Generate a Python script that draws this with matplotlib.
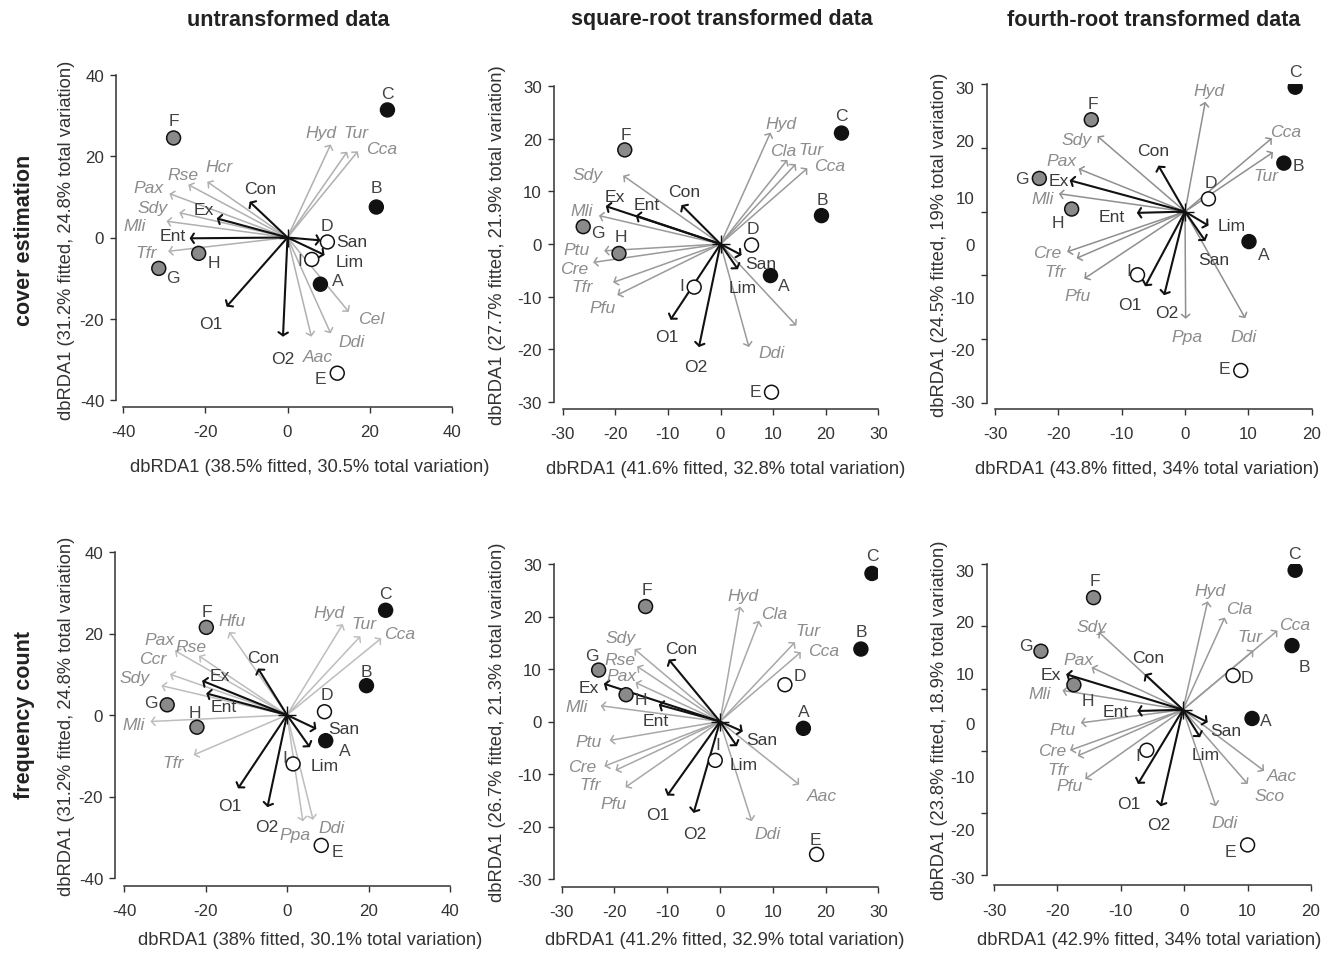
import matplotlib
matplotlib.use('Agg')
import matplotlib.pyplot as plt
from matplotlib import font_manager
from matplotlib.patches import FancyArrowPatch

# --- fonts: the original uses an Arial Narrow look
installed = {f.name for f in font_manager.fontManager.ttflist}
if 'Liberation Sans Narrow' in installed:
    NARROW, K = 'Liberation Sans Narrow', 1.0
else:
    NARROW, K = 'Liberation Sans', 0.84
plt.rcParams['font.family'] = [NARROW, 'DejaVu Sans']
plt.rcParams['axes.unicode_minus'] = False

# ---------------- data ----------------
sites = ['A', 'B', 'C', 'D', 'E', 'F', 'G', 'H', 'I']
site_fill = ['#111111', '#111111', '#111111', 'white', 'white',
             '#8a8a8a', '#8a8a8a', '#8a8a8a', 'white']
env_names = ['Con', 'Ex', 'Ent', 'San', 'Lim', 'O1', 'O2']

# cover estimation, untransformed
ce_raw_sx = [8.0, 21.6, 24.3, 9.7, 12.1, -27.7, -31.3, -21.6, 5.9]
ce_raw_sy = [-11.5, 7.5, 31.4, -1.1, -33.4, 24.5, -7.6, -3.9, -5.4]
ce_raw_ex = [-9.2, -17.2, -23.8, 8.0, 9.0, -14.8, -1.1]
ce_raw_ey = [8.8, 4.7, -0.2, -0.7, -4.3, -17.0, -24.4]
ce_raw_sp = ['Hyd', 'Tur', 'Cca', 'Hcr', 'Rse', 'Pax', 'Sdy', 'Mli', 'Tfr', 'Cel', 'Ddi', 'Aac']
ce_raw_px = [10.5, 14.5, 17.1, -19.5, -24.1, -28.7, -26.3, -29.4, -29.0, 14.9, 10.5, 5.8]
ce_raw_py = [22.9, 21.1, 21.2, 13.7, 13.0, 10.8, 6.1, 4.0, -3.4, -18.3, -23.6, -24.4]

# cover estimation, square-root
ce_sqrt_sx = [9.5, 19.2, 23.0, 5.9, 9.7, -18.2, -26.1, -19.3, -5.0]
ce_sqrt_sy = [-6.0, 5.4, 21.1, -0.2, -28.2, 17.9, 3.3, -1.8, -8.2]
ce_sqrt_ex = [-7.4, -21.8, -16.1, 4.0, 3.3, -9.5, -4.1]
ce_sqrt_ey = [7.4, 7.2, 5.4, -2.1, -4.8, -14.4, -19.6]
ce_sqrt_sp = ['Hyd', 'Cla', 'Tur', 'Cca', 'Sdy', 'Mli', 'Ptu', 'Cre', 'Tfr', 'Pfu', '', 'Ddi']
ce_sqrt_px = [9.5, 12.7, 14.3, 16.5, -18.5, -23.1, -22.1, -24.2, -20.4, -19.6, 14.4, 5.4]
ce_sqrt_py = [21.2, 16.0, 15.2, 14.4, 13.0, 5.4, -1.3, -3.5, -7.3, -9.7, -15.5, -19.6]

# cover estimation, fourth-root
ce_4rt_sx = [10.1, 15.6, 17.4, 3.7, 8.8, -14.8, -23.0, -17.9, -7.5]
ce_4rt_sy = [-4.7, 7.6, 19.5, 2.0, -24.9, 14.4, 5.2, 0.4, -9.9]
ce_4rt_ex = [-4.2, -18.2, -7.6, 3.2, 3.7, -6.3, -3.3]
ce_4rt_ey = [7.2, 4.9, -0.2, -4.6, -2.2, -11.7, -13.1]
ce_4rt_sp = ['Hyd', 'Cca', 'Tur', 'Sdy', 'Pax', 'Mli', 'Cre', 'Tfr', 'Pfu', 'Ppa', 'Ddi']
ce_4rt_px = [3.2, 13.7, 13.9, -13.8, -16.8, -19.9, -18.6, -17.1, -15.9, 0.1, 9.5]
ce_4rt_py = [17.2, 11.5, 9.3, 11.8, 6.7, 2.8, -6.3, -7.3, -10.5, -16.8, -16.7]

# frequency count, untransformed
fc_raw_sx = [9.5, 19.5, 24.2, 9.2, 8.4, -19.8, -29.4, -22.1, 1.5]
fc_raw_sy = [-6.3, 7.2, 25.7, 0.8, -32.0, 21.5, 2.5, -3.0, -12.0]
fc_raw_ex = [-7.1, -20.8, -19.8, 7.2, 5.6, -12.0, -4.8]
fc_raw_ey = [11.4, 8.4, 5.3, -3.4, -7.9, -18.0, -22.6]
fc_raw_sp = ['Hyd', 'Tur', 'Cca', 'Hfu', 'Pax', 'Rse', 'Ccr', 'Sdy', 'Mli', 'Tfr', 'Ppa', 'Ddi']
fc_raw_px = [13.7, 18.0, 23.1, -14.2, -27.5, -21.6, -28.7, -30.8, -33.5, -22.9, 3.9, 6.4]
fc_raw_py = [22.3, 19.3, 18.8, 20.4, 15.8, 14.5, 10.0, 7.2, -1.6, -9.8, -26.1, -25.7]

# frequency count, square-root
fc_sqrt_sx = [15.8, 26.7, 28.8, 12.3, 18.3, -14.1, -23.0, -17.8, -0.9]
fc_sqrt_sy = [-1.3, 13.8, 28.2, 7.0, -25.3, 21.9, 9.8, 5.1, -7.4]
fc_sqrt_ex = [-9.7, -22.0, -11.6, 4.3, 3.2, -10.0, -5.0]
fc_sqrt_ey = [11.8, 7.2, 3.2, -1.9, -4.7, -14.1, -17.4]
fc_sqrt_sp = ['Hyd', 'Cla', 'Tur', 'Cca', 'Sdy', 'Rse', 'Pax', 'Mli', 'Ptu', 'Cre', 'Tfr', 'Pfu', 'Aac', 'Ddi']
fc_sqrt_px = [3.8, 7.4, 14.2, 15.3, -16.2, -15.7, -16.0, -22.6, -20.9, -21.9, -19.8, -17.9, 15.0, 6.0]
fc_sqrt_py = [21.9, 19.2, 15.1, 13.2, 13.8, 10.5, 7.4, 3.0, -3.6, -8.5, -9.3, -12.5, -12.0, -19.0]

# frequency count, fourth-root (vector origin sits slightly below zero)
fc_4rt_origin = (-0.2, -3.4)
fc_4rt_sx = [10.7, 17.0, 17.5, 7.7, 10.0, -14.3, -22.6, -17.4, -5.9]
fc_4rt_sy = [-4.8, 6.9, 19.0, 2.1, -25.1, 14.6, 6.0, 0.6, -9.9]
fc_4rt_ex = [-6.2, -18.6, -7.4, 3.7, 2.5, -7.3, -3.7]
fc_4rt_ey = [2.3, 2.3, -3.6, -5.4, -7.8, -15.3, -18.9]
fc_4rt_sp = ['Hyd', 'Cla', 'Tur', 'Cca', 'Sdy', 'Pax', 'Mli', 'Ptu', 'Cre', 'Tfr', 'Pfu', 'Aac', 'Sco', 'Ddi']
fc_4rt_px = [3.7, 6.4, 10.9, 14.7, -13.5, -14.6, -19.2, -16.3, -18.0, -16.8, -15.6, 12.6, 10.0, 5.0]
fc_4rt_py = [14.0, 11.4, 6.1, 9.3, 9.1, 3.4, -0.3, -5.5, -9.9, -10.8, -14.5, -13.2, -15.3, -18.9]

# ---------------- label placement (pixel offsets from mark) ----------------
ce_raw_lab = {'C': (0, 18), 'F': (0, 19), 'B': (0, 21), 'D': (0, 18), 'I': (-12, 0), 'A': (17, 5),
              'E': (-17, -4), 'H': (15, -8), 'G': (14, -8),
              'Con': (11, 15), 'Ex': (-13, 10), 'Ent': (-17, 4), 'San': (31, 0), 'Lim': (25, -5),
              'O1': (-16, -15), 'O2': (0, -20),
              'Hyd': (-10, 13), 'Tur': (9, 21), 'Cca': (24, 4), 'Hcr': (12, 17), 'Rse': (-5, 12),
              'Pax': (-21, 8), 'Sdy': (-27, 7), 'Mli': (-32, -3), 'Tfr': (-22, 0), 'Cel': (22, -5),
              'Ddi': (21, -7), 'Aac': (7, -18)}
ce_sqrt_lab = {'C': (0, 19), 'F': (1, 17), 'B': (1, 18), 'D': (1, 18), 'A': (13, -8), 'I': (-12, 3),
               'E': (-16, 2), 'G': (15, -4), 'H': (2, 18),
               'Con': (3, 15), 'Ex': (9, 11), 'Ent': (11, 13), 'San': (19, -7), 'Lim': (5, -17),
               'O1': (-4, -15), 'O2': (-3, -18),
               'Hyd': (11, 11), 'Cla': (-4, 11), 'Tur': (15, 16), 'Cca': (22, 4), 'Sdy': (-36, 3),
               'Mli': (-17, 7), 'Ptu': (-28, 3), 'Cre': (-19, -5), 'Tfr': (-31, -3), 'Pfu': (-15, -11),
               'Ddi': (23, -4)}
ce_4rt_lab = {'C': (0, 17), 'F': (2, 18), 'B': (15, -1), 'D': (2, 18), 'A': (15, -11), 'I': (-9, 6),
              'E': (-16, 3), 'G': (-17, 1), 'H': (-14, -12),
              'Con': (-5, 17), 'Ex': (-11, 1), 'Ent': (-25, -2), 'Lim': (23, 2), 'San': (8, -17),
              'O1': (-15, -17), 'O2': (3, -16),
              'Hyd': (4, 13), 'Cca': (14, 8), 'Tur': (-7, -22), 'Sdy': (-21, -2), 'Pax': (-17, 10),
              'Mli': (-16, -3), 'Cre': (-20, 1), 'Tfr': (-22, -12), 'Pfu': (-7, -15), 'Ppa': (1, -16),
              'Ddi': (-2, -17)}
fc_raw_lab = {'C': (0, 18), 'F': (1, 17), 'B': (0, 16), 'D': (2, 19), 'A': (19, -8), 'I': (-8, 8),
              'E': (16, -5), 'G': (-16, 4), 'H': (-2, 16),
              'Con': (5, 13), 'Ex': (18, 7), 'Ent': (17, -12), 'San': (27, 2), 'Lim': (15, -17),
              'O1': (-8, -16), 'O2': (-1, -18),
              'Hyd': (-14, 13), 'Tur': (4, 14), 'Cca': (18, 6), 'Hfu': (3, 13), 'Pax': (-15, 13),
              'Rse': (-8, 11), 'Ccr': (-17, 17), 'Sdy': (-27, 10), 'Mli': (-17, -1), 'Tfr': (-21, -6),
              'Ppa': (-8, -12), 'Ddi': (18, -6)}
fc_sqrt_lab = {'C': (0, 19), 'F': (1, 19), 'B': (0, 19), 'D': (15, 11), 'A': (0, 18), 'I': (3, 17),
               'E': (-1, 16), 'G': (-7, 16), 'H': (15, -3),
               'Con': (12, 13), 'Ex': (-15, -2), 'Ent': (-3, -14), 'San': (19, -7), 'Lim': (7, -17),
               'O1': (-9, -17), 'O2': (1, -19),
               'Hyd': (3, 13), 'Cla': (15, 9), 'Tur': (13, 13), 'Cca': (23, 3), 'Sdy': (-14, 13),
               'Rse': (-17, 8), 'Pax': (-14, 9), 'Mli': (-24, 1), 'Ptu': (-21, 0), 'Cre': (-22, 1),
               'Tfr': (-25, -13), 'Pfu': (-12, -15), 'Aac': (23, -10), 'Ddi': (16, -11)}
fc_4rt_lab = {'C': (-1, 18), 'F': (1, 19), 'B': (12, -19), 'D': (14, -1), 'A': (14, -1), 'I': (-9, -4),
              'E': (-17, -5), 'G': (-15, 7), 'H': (14, -14),
              'Con': (3, 18), 'Ex': (-15, 1), 'Ent': (-22, 1), 'San': (18, -7), 'Lim': (6, -16),
              'O1': (-9, -18), 'O2': (-2, -17),
              'Hyd': (2, 12), 'Cla': (14, 11), 'Tur': (-3, 16), 'Cca': (17, 8), 'Sdy': (-7, 7),
              'Pax': (-13, 9), 'Mli': (-23, -2), 'Ptu': (-18, -5), 'Cre': (-18, 1), 'Tfr': (-20, -12),
              'Pfu': (-16, -5), 'Aac': (18, -3), 'Sco': (22, -10), 'Ddi': (9, -15)}

col_titles = ['untransformed data', 'square-root transformed data', 'fourth-root transformed data']
row_titles = ['cover estimation', 'frequency count']
x_titles = ['dbRDA1 (38.5% fitted, 30.5% total variation)', 'dbRDA1 (41.6% fitted, 32.8% total variation)',
            'dbRDA1 (43.8% fitted, 34% total variation)', 'dbRDA1 (38% fitted, 30.1% total variation)',
            'dbRDA1 (41.2% fitted, 32.9% total variation)', 'dbRDA1 (42.9% fitted, 34% total variation)']
y_titles = ['dbRDA1 (31.2% fitted, 24.8% total variation)', 'dbRDA1 (27.7% fitted, 21.9% total variation)',
            'dbRDA1 (24.5% fitted, 19% total variation)', 'dbRDA1 (31.2% fitted, 24.8% total variation)',
            'dbRDA1 (26.7% fitted, 21.3% total variation)', 'dbRDA1 (23.8% fitted, 18.9% total variation)']
# the right-hand panels carry printed y labels that do not sit on their ticks
right_ylabels = ['30', '20', '10', '0', '-10', '-20', '-30']
ce_4rt_ylab_pos = [19.5, 11.2, 2.3, -5.1, -13.4, -21.6, -29.7]
fc_4rt_ylab_pos = [19.1, 10.9, 2.5, -5.6, -14.1, -22.6, -30.3]

W, H = 1333, 954
fig = plt.figure(figsize=(W / 100, H / 100), dpi=100)


def px_axes(x0, x1, ytop, ybot):
    return fig.add_axes([x0 / W, 1 - ybot / H, (x1 - x0) / W, (ybot - ytop) / H])


def panel(box, lim, ticks, off, sx, sy, ex, ey, sp, px, py, lab, sp_col, origin=(0, 0),
          ylab_pos=None):
    x0, x1, ytop, ybot = box
    ax = px_axes(x0, x1, ytop, ybot)
    ax.set_xlim(lim[0], lim[1])
    ax.set_ylim(lim[2], lim[3])
    for s in ['top', 'right']:
        ax.spines[s].set_visible(False)
    ax.spines['left'].set_position(('outward', off[0] * 0.72))
    ax.spines['bottom'].set_position(('outward', off[1] * 0.72))
    ax.spines['left'].set_bounds(lim[2], lim[3])
    ax.spines['bottom'].set_bounds(lim[0], lim[1])
    for s in ['left', 'bottom']:
        ax.spines[s].set_linewidth(1.1)
        ax.spines[s].set_color('#333333')
    ax.set_xticks(ticks[0])
    ax.set_xticklabels([str(t) for t in ticks[0]])
    ax.set_yticks(ticks[1])
    if ylab_pos is None:
        ax.set_yticklabels([str(t) for t in ticks[1]])
    else:
        ax.set_yticklabels([])
        ax.set_yticks(ylab_pos, labels=right_ylabels, minor=True)
        ax.tick_params(axis='y', which='minor', length=0, pad=9, labelsize=14.5 * K, labelcolor='#333333')
    ax.tick_params(which='major', direction='out', length=4.5, width=1, color='#333333',
                   labelsize=14.5 * K, labelcolor='#333333')
    ax.tick_params(axis='y', which='major', pad=4)
    ax.tick_params(axis='x', which='major', pad=8)
    ax.patch.set_visible(False)

    ox, oy = origin
    for x, y in zip(px, py):
        ax.add_patch(FancyArrowPatch((ox, oy), (x, y), arrowstyle='->,head_length=0.25,head_width=0.3',
                                     mutation_scale=10, lw=1.1, color=sp_col, shrinkA=0, shrinkB=0, zorder=2))
    for x, y in zip(ex, ey):
        ax.add_patch(FancyArrowPatch((ox, oy), (x, y), arrowstyle='->,head_length=0.22,head_width=0.34',
                                     mutation_scale=10, lw=1.5, color='#111111', shrinkA=0, shrinkB=0, zorder=3))
    ax.plot([ox], [oy], marker='+', ms=13, mew=1.0, color='#111111', zorder=3)
    ax.scatter(sx, sy, s=100, c=site_fill, edgecolors='#111111', linewidths=1.1, zorder=4)

    def put(name, x, y, color, style):
        if not name:
            return
        dx, dy = lab.get(name, (0, 15))
        ax.annotate(name, (x, y), xytext=(dx, dy), textcoords='offset pixels', ha='center',
                    va='center_baseline', fontsize=15 * K, color=color, style=style, zorder=5)

    for n, x, y in zip(sites, sx, sy):
        put(n, x, y, '#444444', 'normal')
    for n, x, y in zip(env_names, ex, ey):
        put(n, x, y, '#3a3a3a', 'normal')
    for n, x, y in zip(sp, px, py):
        put(n, x, y, '#8c8c8c', 'italic')
    return ax


t40 = [-40, -20, 0, 20, 40]
t30 = [-30, -20, -10, 0, 10, 20, 30]
t20 = [-30, -20, -10, 0, 10, 20]

panel((123, 452, 76, 401), (-40, 40, -40, 40), (t40, t40), (7, 7),
      ce_raw_sx, ce_raw_sy, ce_raw_ex, ce_raw_ey, ce_raw_sp, ce_raw_px, ce_raw_py, ce_raw_lab, '#b0b0b0')
panel((562.7, 878.3, 87.3, 402.7), (-30, 30, -30, 30), (t30, t30), (9, 7),
      ce_sqrt_sx, ce_sqrt_sy, ce_sqrt_ex, ce_sqrt_ey, ce_sqrt_sp, ce_sqrt_px, ce_sqrt_py, ce_sqrt_lab, '#9a9a9a')
panel((995, 1311.7, 85, 404), (-30, 20, -30, 20), (t20, t20), (8, 6),
      ce_4rt_sx, ce_4rt_sy, ce_4rt_ex, ce_4rt_ey, ce_4rt_sp, ce_4rt_px, ce_4rt_py, ce_4rt_lab, '#8f8f8f',
      ylab_pos=ce_4rt_ylab_pos)
panel((124, 450, 553, 879), (-40, 40, -40, 40), (t40, t40), (9, 8),
      fc_raw_sx, fc_raw_sy, fc_raw_ex, fc_raw_ey, fc_raw_sp, fc_raw_px, fc_raw_py, fc_raw_lab, '#bdbdbd')
panel((561.7, 878.3, 565, 880), (-30, 30, -30, 30), (t30, t30), (8, 8),
      fc_sqrt_sx, fc_sqrt_sy, fc_sqrt_ex, fc_sqrt_ey, fc_sqrt_sp, fc_sqrt_px, fc_sqrt_py, fc_sqrt_lab, '#a8a8a8')
panel((994, 1311, 565, 878.3), (-30, 20, -30, 20), (t20, t20), (7, 8),
      fc_4rt_sx, fc_4rt_sy, fc_4rt_ex, fc_4rt_ey, fc_4rt_sp, fc_4rt_px, fc_4rt_py, fc_4rt_lab, '#9a9a9a',
      origin=fc_4rt_origin, ylab_pos=fc_4rt_ylab_pos)

# titles and axis captions
for t, xc in zip(col_titles, [288, 722, 1154]):
    fig.text(xc / W, 1 - 20 / H, t, ha='center', va='center', fontsize=15.5, fontweight='bold',
             family='Liberation Sans', color='#222222')
for t, yc in zip(row_titles, [240, 715]):
    fig.text(25 / W, 1 - yc / H, t, ha='center', va='center', rotation=90, fontsize=15.5,
             fontweight='bold', family='Liberation Sans', color='#222222')
for t, (xc, yc) in zip(x_titles, [(310, 468), (726, 470), (1147, 470), (310, 941), (725, 941), (1149, 941)]):
    fig.text(xc / W, 1 - yc / H, t, ha='center', va='center', fontsize=15.8 * K, color='#333333')
for t, (xc, yc) in zip(y_titles, [(67, 240), (498, 245), (940, 245), (67, 716), (498, 722), (940, 720)]):
    fig.text(xc / W, 1 - yc / H, t, ha='center', va='center', rotation=90, fontsize=15.8 * K,
             color='#333333')

fig.savefig('out.png', dpi=100)
